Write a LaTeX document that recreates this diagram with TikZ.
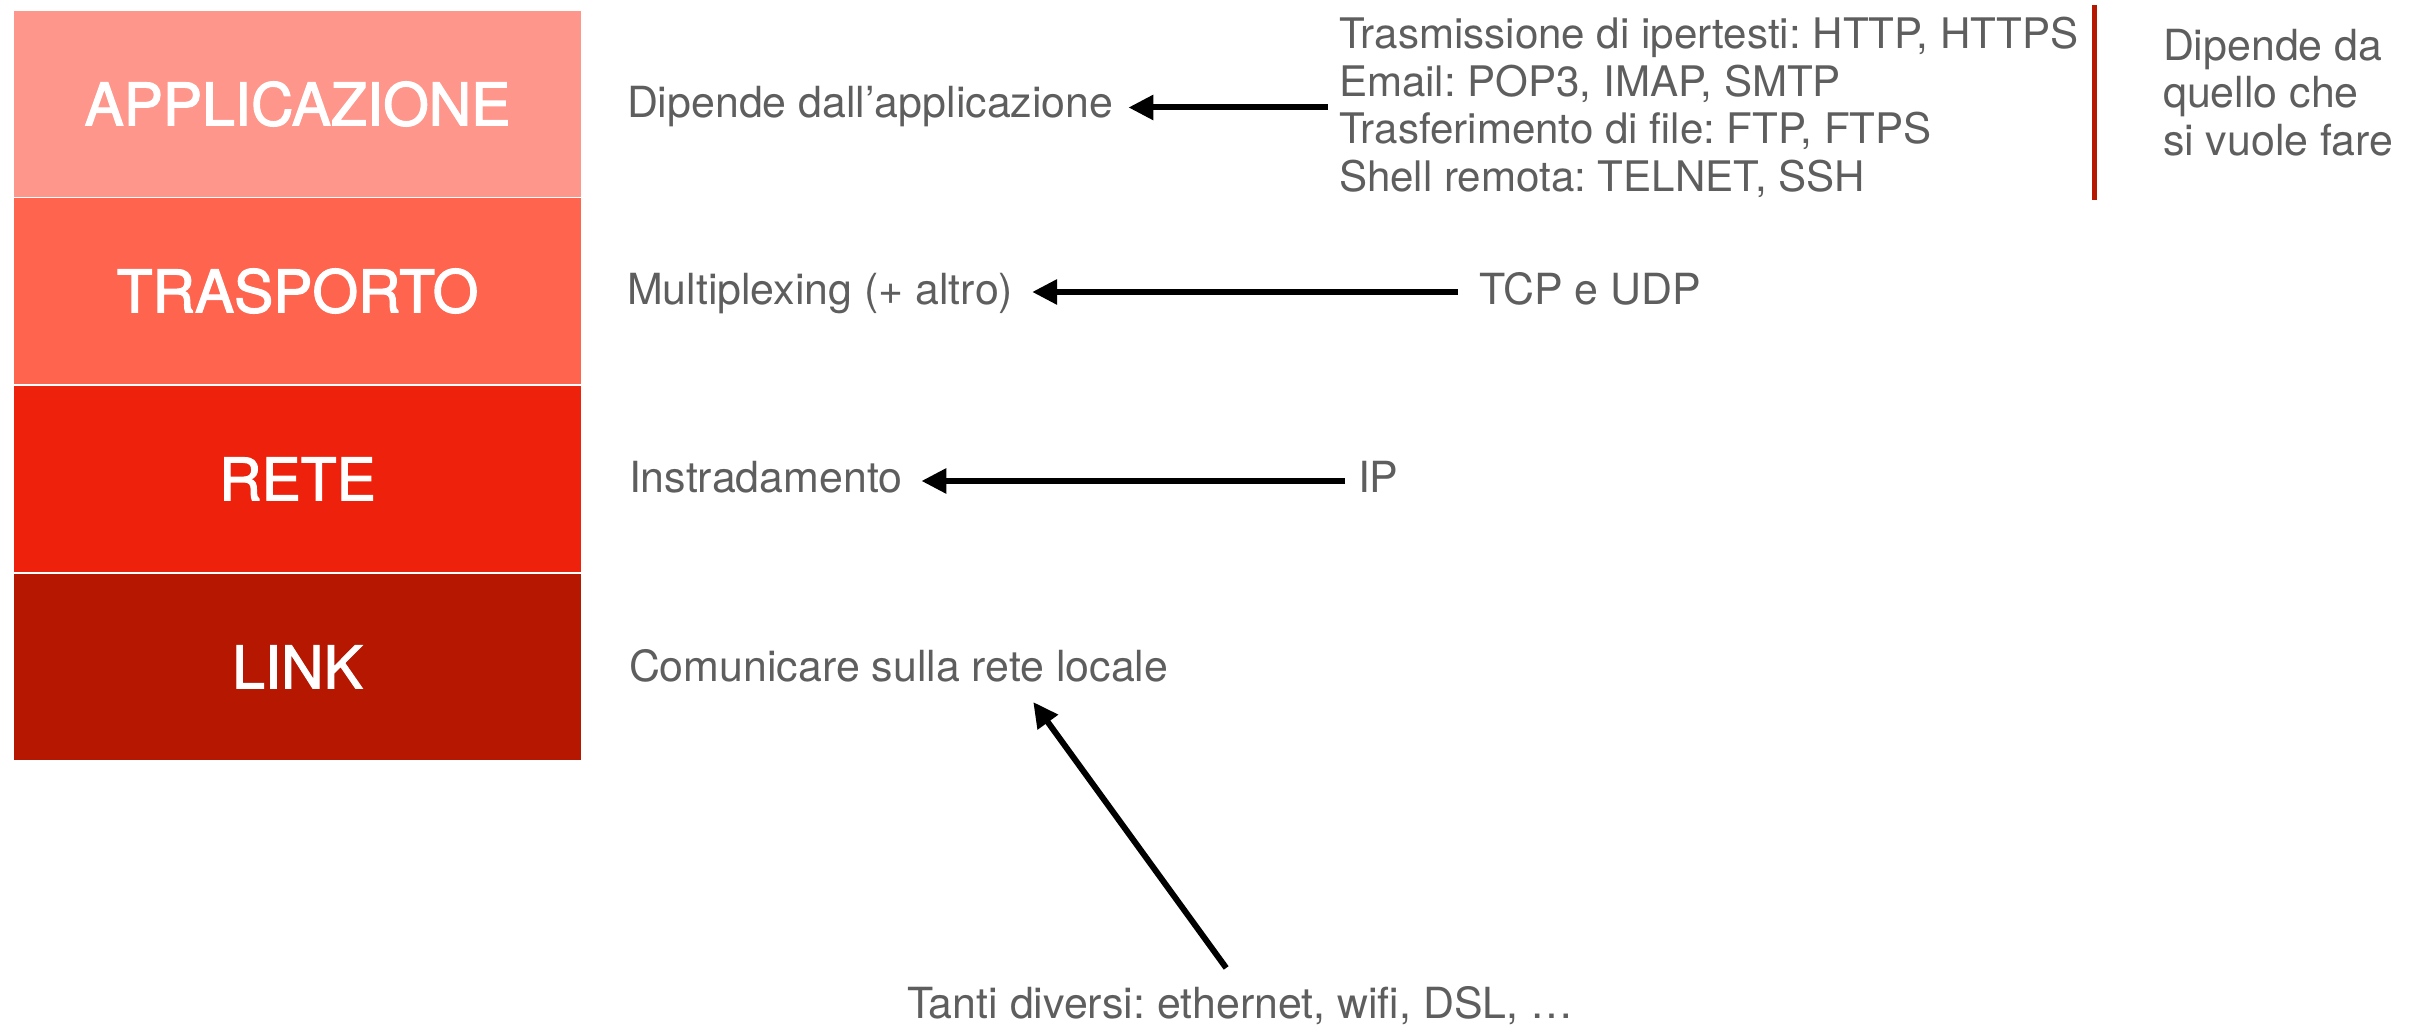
\documentclass[tikz,border=0pt]{standalone}
\usepackage{fontspec}
\setmainfont{TeX Gyre Heros}
\newfontfamily\layerfont[FakeBold=2]{TeX Gyre Heros}
\frenchspacing
\usetikzlibrary{arrows.meta}
\definecolor{appcol}{HTML}{FF968C}
\definecolor{tracol}{HTML}{FF644E}
\definecolor{retcol}{HTML}{EE220C}
\definecolor{lnkcol}{HTML}{B51700}
\definecolor{txtgray}{HTML}{5E5E5E}
\definecolor{sepred}{HTML}{B51700}
\tikzset{
  layer/.style={minimum width=5.67cm, minimum height=1.85cm, inner sep=0pt,
    text=white, font=\layerfont\fontsize{16.7pt}{20pt}\selectfont},
  note/.style={inner sep=0pt, outer sep=0pt, text=txtgray,
    font=\fontsize{12.2pt}{13.55pt}\selectfont},
  arr/.style={line width=1.7pt, -{Triangle[length=2.5mm, width=2.4mm]}},
}
\begin{document}
\begin{tikzpicture}[x=0.01cm, y=-0.01cm]
  \useasboundingbox (0,0) rectangle (2423,1025);

  % protocol stack
  \node[layer, fill=appcol] (app) at (297.5,104)   {APPLICAZIONE};
  \node[layer, fill=tracol] (tra) at (297.5,291)   {TRASPORTO};
  \node[layer, fill=retcol] (ret) at (297.5,479)   {RETE};
  \node[layer, fill=lnkcol] (lnk) at (297.5,667)   {LINK};

  % role of each layer
  \node[note, anchor=base west] (dapp) at (627,118) {Dipende dall’applicazione};
  \node[note, anchor=base west] (dtra) at (627,305) {Multiplexing (+ altro)};
  \node[note, anchor=base west] (dret) at (629,493) {Instradamento};
  \node[note, anchor=base west] (dlnk) at (629,682) {Comunicare sulla rete locale};

  % protocols
  \node[note, font=\fontsize{11.97pt}{13.55pt}\selectfont,
        anchor=north west, align=left] (plist) at (1339,17)
    {Trasmissione di ipertesti: HTTP, HTTPS\\
     Email: POP3, IMAP, SMTP\\
     Trasferimento di file: FTP, FTPS\\
     Shell remota: TELNET, SSH};
  \node[note, anchor=base west] (tcp) at (1479,305) {TCP e UDP};
  \node[note, anchor=base west] (ip)  at (1358,493) {IP};
  \node[note, anchor=base west] (phy) at (907,1019) {Tanti diversi: ethernet, wifi, DSL, …};

  % separator and side remark
  \coordinate (septop) at (2094.5,5);
  \coordinate (sepbot) at (2094.5,200);
  \draw[sepred, line width=1.4pt] (septop) -- (sepbot);
  \node[note, anchor=north west, align=left] (dep) at (2163,29)
    {Dipende da\\quello che\\si vuole fare};

  % arrow end points
  \coordinate (dappR) at ([xshift=1.5mm, yshift=1.05mm]dapp.base east);
  \coordinate (plistL) at ([xshift=-1.1mm]plist.west);

  % arrows
  \draw[arr] (plistL |- dappR) -- (dappR);
  \draw[arr] ([xshift=-2.1mm, yshift=1.3mm]tcp.base west) -- ([xshift=1.9mm, yshift=1.3mm]dtra.base east);
  \draw[arr] ([xshift=-1.3mm, yshift=1.2mm]ip.base west) -- ([xshift=1.9mm, yshift=1.2mm]dret.base east);
  \draw[arr] ([xshift=-1.4mm, yshift=1.9mm]phy.north) -- ([xshift=40.4mm, yshift=-2mm]dlnk.base west);
\end{tikzpicture}
\end{document}
